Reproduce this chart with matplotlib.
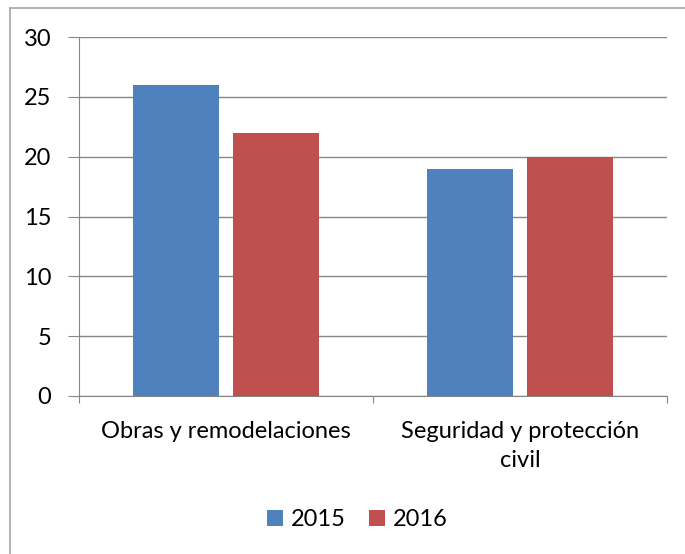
import matplotlib.pyplot as plt
from matplotlib.lines import Line2D
import numpy as np

plt.rcParams['font.family'] = ['Lato', 'DejaVu Sans']

categories = ["Obras y remodelaciones", "Seguridad y protección\ncivil"]
years = ["2015", "2016"]
values_2015 = [26, 19]
values_2016 = [22, 20]
colors = ['#4F81BD', '#C0504D']

fig = plt.figure(figsize=(6.85, 5.54), dpi=100)
ax = fig.add_axes([79/685, 1-396/554, (667-79)/685, (396-37)/554])

# chart border (only left and top edges visible in the crop)
fig.add_artist(Line2D([9.5/685, 9.5/685], [0, 1-7.5/554], transform=fig.transFigure,
                      color='#A6A6A6', linewidth=1.2))
fig.add_artist(Line2D([9.5/685, 1], [1-7.5/554, 1-7.5/554], transform=fig.transFigure,
                      color='#A6A6A6', linewidth=1.2))

xx = np.arange(len(categories)) + 0.5
w = 0.293
ax.bar(xx - 0.17, values_2015, w, color=colors[0], label=years[0], zorder=3)
ax.bar(xx + 0.17, values_2016, w, color=colors[1], label=years[1], zorder=3)

ax.set_xlim(0, 2)
ax.set_ylim(0, 30)
ax.set_yticks(np.arange(0, 31, 5))
ax.yaxis.grid(True, color='#868686', linewidth=1, zorder=0)
ax.set_xticks([0, 1, 2])
ax.set_xticklabels([])
ax.set_xticks(xx, minor=True)
ax.set_xticklabels(categories, minor=True, fontsize=17, linespacing=1.45)
ax.tick_params(axis='x', which='minor', length=0, pad=18)
ax.tick_params(axis='x', which='major', length=5, color='#868686', direction='out')
ax.tick_params(axis='y', length=8, color='#868686', direction='out', labelsize=17, pad=12)
for side in ['top', 'right']:
    ax.spines[side].set_visible(False)
for side in ['left', 'bottom']:
    ax.spines[side].set_color('#868686')

fig.legend(loc='center', bbox_to_anchor=(357.5/685, 1-520/554), ncol=2, frameon=False,
           fontsize=17, handlelength=0.65, handleheight=0.65, handletextpad=0.35,
           columnspacing=1.0)

fig.savefig("out.png", dpi=100)
